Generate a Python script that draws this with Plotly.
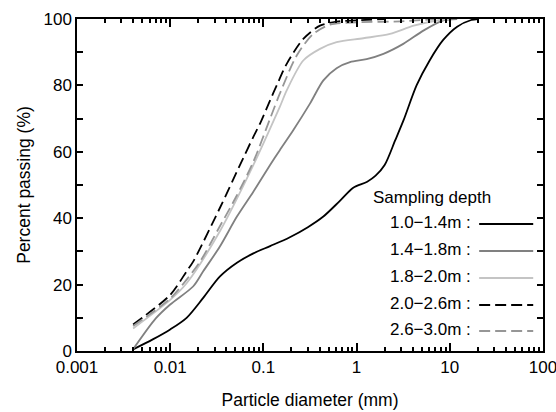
import plotly.graph_objects as go

# ---- data ----
d1 = [0.004, 0.0065, 0.01, 0.015, 0.0226, 0.034, 0.052, 0.078, 0.118, 0.19, 0.3, 0.44, 0.65, 0.92, 1.3, 1.6, 2.0, 2.6, 3.2, 4.4, 6.1, 8.5, 12, 17, 20]
p1 = [0.5, 3.5, 6.5, 10, 16, 22.4, 26.6, 29.4, 31.6, 34.2, 37.3, 40.5, 45, 49.2, 51, 52.8, 56, 63.5, 69.6, 80, 87.6, 93.7, 97.7, 99.7, 100]

d2 = [0.004, 0.007, 0.01, 0.0177, 0.0226, 0.034, 0.052, 0.078, 0.118, 0.15, 0.209, 0.316, 0.44, 0.61, 0.85, 1.28, 1.94, 3.17, 5.2, 8.5, 12]
p2 = [0.5, 9.8, 14, 19.5, 24, 31.4, 40.5, 48, 56, 60.5, 66.5, 74.5, 81.5, 85.2, 87, 87.9, 89.5, 92.5, 96.5, 99.6, 100]

d3 = [0.004, 0.01, 0.015, 0.034, 0.078, 0.118, 0.15, 0.178, 0.268, 0.405, 0.61, 1.18, 2.28, 4.1, 7.8, 10]
p3 = [6.8, 15.4, 20.4, 36, 56, 67, 73.5, 78.5, 87.5, 91, 93, 94.2, 95.5, 98, 99.7, 100]

d4 = [0.004, 0.01, 0.015, 0.0177, 0.034, 0.056, 0.078, 0.092, 0.118, 0.139, 0.178, 0.268, 0.405, 0.61, 1.0, 2.0]
p4 = [8, 16.9, 24, 27, 43, 56, 64.5, 68.5, 75.5, 80, 86.5, 94, 98, 99.2, 99.6, 100]

d5 = [0.004, 0.01, 0.015, 0.021, 0.034, 0.05, 0.078, 0.118, 0.15, 0.228, 0.343, 0.52, 1.0, 3.0, 7.0]
p5 = [7.5, 15.8, 21.5, 27, 37.5, 46, 57, 70, 77.5, 89, 95.5, 98.3, 99, 99.3, 100]

labels = ["1.0\u22121.4m :", "1.4\u22121.8m :", "1.8\u22122.0m :", "2.0\u22122.6m :", "2.6\u22123.0m :"]
legend_title = "Sampling depth"
x_title = "Particle diameter (mm)"
y_title = "Percent passing (%)"
x_ticks = [0.001, 0.01, 0.1, 1, 10, 100]
x_ticktext = ["0.001", "0.01", "0.1", "1", "10", "100"]

# ---- styles ----
colors = ["#000000", "#808080", "#c4c4c4", "#000000", "#969696"]
dashes = ["solid", "solid", "solid", "11px,5px", "11px,5px"]
FONT = "Arial"

fig = go.Figure()
for xs, ys, c, dsh, lab in zip([d1, d2, d3, d4, d5], [p1, p2, p3, p4, p5], colors, dashes, labels):
    fig.add_trace(go.Scatter(x=xs, y=ys, mode="lines", name=lab, hoverinfo="skip",
                             line=dict(color=c, width=1.8, dash=dsh, shape="spline", smoothing=0.8),
                             showlegend=False))

# legend drawn on an invisible overlay axis (0..1 in both directions): text, then line sample
row_y = [0.3825, 0.301, 0.2199, 0.1386, 0.0602]
fig.add_trace(go.Scatter(x=[0.762], y=[row_y[0] + 0.0755], mode="text", text=[legend_title],
                         textposition="middle center", textfont=dict(size=17, color="black", family=FONT),
                         xaxis="x2", yaxis="y2", showlegend=False, hoverinfo="skip", cliponaxis=False))
fig.add_trace(go.Scatter(x=[0.845] * len(labels), y=row_y, mode="text", text=labels,
                         textposition="middle left", textfont=dict(size=17, color="black", family=FONT),
                         xaxis="x2", yaxis="y2", showlegend=False, hoverinfo="skip", cliponaxis=False))
for c, dsh, ry in zip(colors, dashes, row_y):
    fig.add_trace(go.Scatter(x=[0.863, 0.979], y=[ry, ry], mode="lines",
                             line=dict(color=c, width=2, dash=dsh),
                             xaxis="x2", yaxis="y2", showlegend=False, hoverinfo="skip"))

fig.update_layout(
    xaxis=dict(type="log", range=[-3, 2.0002], tickmode="array", tickvals=x_ticks, ticktext=x_ticktext,
               showline=True, linecolor="black", linewidth=1.5, mirror="ticks",
               ticks="inside", ticklen=8, tickcolor="black", tickwidth=1.5,
               minor=dict(ticks="inside", ticklen=4, tickcolor="black", dtick="D1"),
               ticklabeloverflow="allow", showgrid=False, zeroline=False,
               tickfont=dict(size=17, color="black", family=FONT),
               title=dict(text=x_title, font=dict(size=17.5, color="black", family=FONT), standoff=18)),
    yaxis=dict(range=[0, 100], dtick=20,
               showline=True, linecolor="black", linewidth=1.5, mirror="ticks",
               ticks="inside", ticklen=6, tickcolor="black", tickwidth=1.5,
               minor=dict(ticks="inside", ticklen=6, tickcolor="black", dtick=10),
               showgrid=False, zeroline=False,
               tickfont=dict(size=17, color="black", family=FONT),
               title=dict(text=y_title, font=dict(size=17.5, color="black", family=FONT), standoff=8)),
    xaxis2=dict(overlaying="x", anchor="y2", range=[0, 1], visible=False, fixedrange=True),
    yaxis2=dict(overlaying="y", anchor="x2", range=[0, 1], visible=False, fixedrange=True),
    width=556, height=412, margin=dict(l=77, r=13, t=19, b=61, autoexpand=False),
    plot_bgcolor="white", paper_bgcolor="white", showlegend=False,
    font=dict(family=FONT, color="black"))

fig.write_html("out.html")
